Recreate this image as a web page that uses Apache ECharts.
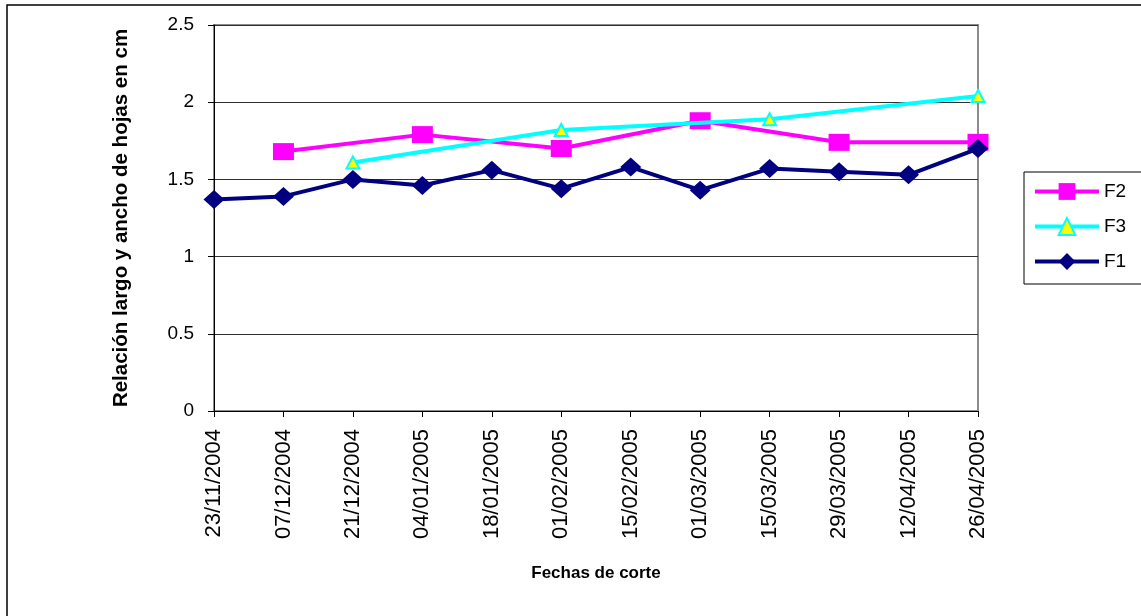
<!DOCTYPE html>
<html>
<head>
<meta charset="utf-8">
<script src="https://cdn.jsdelivr.net/npm/echarts@6/dist/echarts.min.js"></script>
<style>
  html, body { margin: 0; padding: 0; background: #fff; }
  #chart { width: 1141px; height: 616px; }
</style>
</head>
<body>
<div id="chart"></div>
<script>
// Cutting dates (category axis)
const fechas = ['23/11/2004', '07/12/2004', '21/12/2004', '04/01/2005', '18/01/2005', '01/02/2005',
                '15/02/2005', '01/03/2005', '15/03/2005', '29/03/2005', '12/04/2005', '26/04/2005'];

// Leaf length/width ratio per treatment (null = not measured on that date)
const f2 = [null, 1.68, null, 1.79, null, 1.70, null, 1.88, null, 1.74, null, 1.74];
const f3 = [null, null, 1.61, null, null, 1.82, null, null, 1.89, null, null, 2.04];
const f1 = [1.37, 1.39, 1.50, 1.46, 1.56, 1.44, 1.58, 1.43, 1.57, 1.55, 1.53, 1.70];

const yTicks = { min: 0, max: 2.5, interval: 0.5 };

const font = 'Liberation Sans, Arial, sans-serif';
const chart = echarts.init(document.getElementById('chart'), null, { renderer: 'canvas' });

chart.setOption({
  animation: false,
  backgroundColor: '#fff',
  graphic: [{
    type: 'rect',
    shape: { x: 7, y: 5, width: 1200, height: 700 },
    style: { fill: 'none', stroke: '#000', lineWidth: 1.5 },
    silent: true,
    z: -1
  }],
  grid: {
    left: 214, right: 163, top: 25, bottom: 205,
    show: true, borderColor: '#8c8c8c', borderWidth: 2, backgroundColor: 'transparent'
  },
  legend: {
    orient: 'vertical',
    left: 1024, top: 172,
    padding: [10, 22, 13, 9],
    itemWidth: 64, itemHeight: 21, itemGap: 16,
    borderColor: '#000', borderWidth: 1,
    lineStyle: { width: 4 },
    textStyle: { fontFamily: font, fontSize: 19, color: '#000' },
    data: ['F2', 'F3', 'F1']
  },
  xAxis: {
    type: 'category',
    data: fechas,
    boundaryGap: false,
    name: 'Fechas de corte',
    nameLocation: 'middle',
    nameGap: 154,
    nameTextStyle: { fontFamily: font, fontSize: 17, fontWeight: 'bold', color: '#000' },
    axisLine: { lineStyle: { color: '#000', width: 1 } },
    axisTick: { show: true, length: 6, alignWithLabel: true, lineStyle: { color: '#000' } },
    axisLabel: { rotate: 90, margin: 18, fontFamily: font, fontSize: 22, color: '#000', interval: 0 },
    splitLine: { show: false }
  },
  yAxis: {
    type: 'value',
    min: yTicks.min, max: yTicks.max, interval: yTicks.interval,
    name: 'Relación largo y ancho de hojas en cm',
    nameLocation: 'middle',
    nameGap: 82,
    nameTextStyle: { fontFamily: font, fontSize: 20.5, fontWeight: 'bold', color: '#000' },
    axisLine: { show: true, lineStyle: { color: '#000', width: 1 } },
    axisTick: { show: true, length: 6, lineStyle: { color: '#000' } },
    axisLabel: { margin: 20, fontFamily: font, fontSize: 19, color: '#000' },
    splitLine: { show: true, lineStyle: { color: '#303030', width: 1 } }
  },
  series: [
    {
      name: 'F2', type: 'line', data: f2, connectNulls: true,
      symbol: 'rect', symbolSize: [21, 17],
      lineStyle: { color: '#ff00ff', width: 4 },
      itemStyle: { color: '#ff00ff' },
      z: 2
    },
    {
      name: 'F3', type: 'line', data: f3, connectNulls: true,
      symbol: 'triangle', symbolSize: [13, 12],
      lineStyle: { color: '#00ffff', width: 4 },
      itemStyle: { color: '#ffff00', borderColor: '#00ffff', borderWidth: 2 },
      z: 3
    },
    {
      name: 'F1', type: 'line', data: f1, connectNulls: true,
      symbol: 'diamond', symbolSize: [21, 19],
      lineStyle: { color: '#000080', width: 4 },
      itemStyle: { color: '#000080' },
      z: 4
    }
  ]
});
</script>
</body>
</html>
